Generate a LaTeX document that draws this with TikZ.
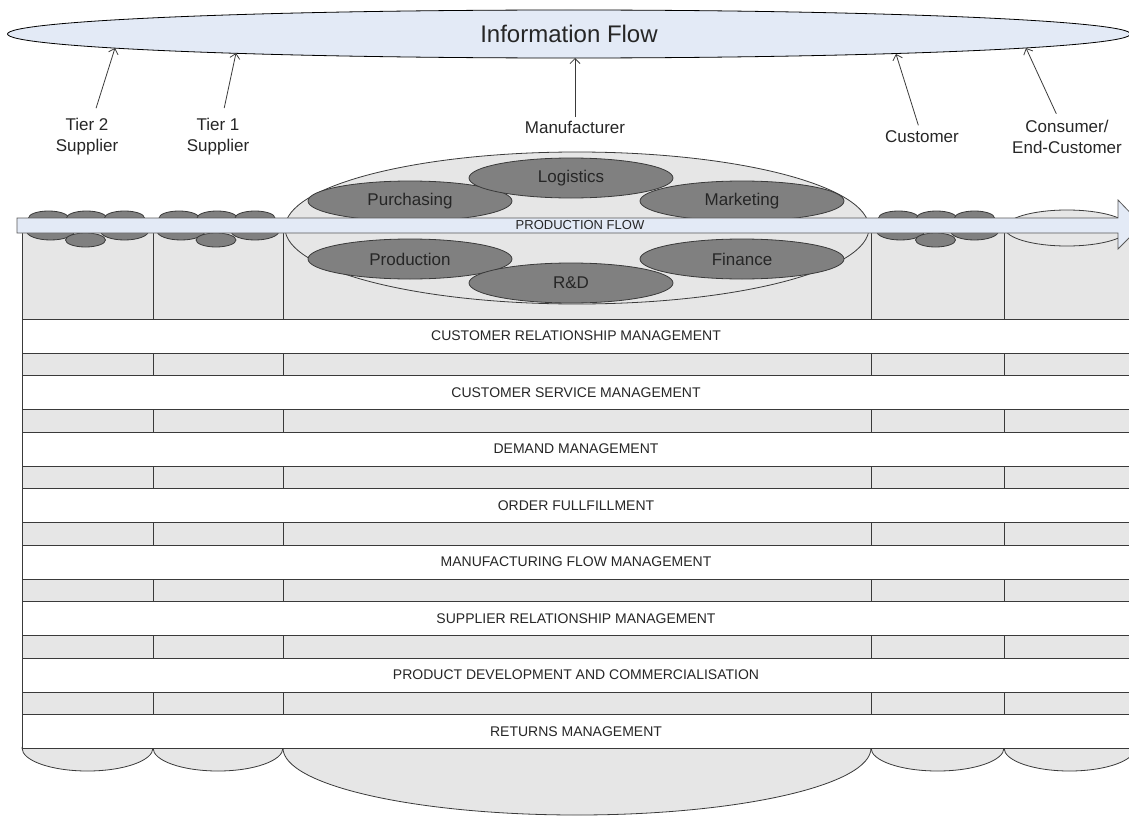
\documentclass[tikz,border=0pt]{standalone}
\usepackage{fontspec}
\setmainfont{Liberation Sans}
\usetikzlibrary{shapes.geometric,arrows.meta}
\definecolor{flowblue}{HTML}{E3EAF6}
\definecolor{colgray}{HTML}{E6E6E6}
\definecolor{deptgray}{HTML}{808080}
\definecolor{edge}{HTML}{3A3A3A}
\tikzset{
  lbl/.style={align=center, font=\fontsize{17}{21}\selectfont, text=black!85},
  dept/.style={ellipse, draw=edge, fill=deptgray, minimum width=204pt, minimum height=40pt,
    inner sep=0pt, font=\fontsize{17}{20}\selectfont, text=black!85},
  blob/.style={draw=edge, fill=deptgray},
  band/.style={draw=edge, fill=white},
  bandtxt/.style={font=\fontsize{14}{16}\selectfont, text=black!85}
}
\begin{document}
\begin{tikzpicture}[x=1pt, y=-1pt, line width=0.8pt, >={Straight Barb[length=5pt,width=10pt]}]
\useasboundingbox (0,0) rectangle (1129,816);
\clip (0,0) rectangle (1129,816);
% information flow and the members of the chain
\node[ellipse, draw=black, fill=flowblue, minimum width=1123pt, minimum height=48pt,
  inner sep=0pt, font=\fontsize{24}{28}\selectfont, text=black!85] (info) at (569,34) {Information Flow};
\node[lbl] (tier2) at (87,137) {Tier 2\\Supplier};
\node[lbl] (tier1) at (218,137) {Tier 1\\Supplier};
\node[lbl] (manu) at (575,127) {Manufacturer};
\node[lbl] (cust) at (922,137) {Customer};
\node[lbl] (cons) at (1067,137) {Consumer/\\End-Customer};
\coordinate (tier2tip) at (115,48);
\coordinate (tier1tip) at (236,53);
\coordinate (manutip) at (575,58);
\coordinate (custtip) at (896,54);
\coordinate (constip) at (1026,48);
\draw[->, edge, shorten <=7pt] (tier2) -- (tier2tip);
\draw[->, edge, shorten <=7pt] (tier1) -- (tier1tip);
\draw[->, edge] (manu) -- (manutip);
\draw[->, edge, shorten <=2pt] (cust) -- (custtip);
\draw[->, edge, shorten <=3pt] (cons) -- (constip);
% column bottoms and bodies
\foreach \xl/\xr/\ry in {22/153/23, 153/283/23, 283/871/67, 871/1004/23, 1004/1135/23}
  \draw[edge, fill=colgray] ({(\xl+\xr)/2},748) ellipse [x radius={(\xr-\xl)/2}, y radius=\ry];
\fill[colgray] (22,228) rectangle (1135,748);
\foreach \x in {22,153,283,871,1004}
  \draw[edge] (\x,228) -- (\x,748);
% column tops
\draw[edge, fill=colgray] (577,228) ellipse [x radius=292, y radius=76];
\draw[edge, fill=colgray] (1067,228) ellipse [x radius=62, y radius=18];
\foreach \c in {87.5,218,937.5}
{
  \foreach \dx in {-39,-1,37}
    \draw[blob] ({\c+\dx},218) ellipse [x radius=20, y radius=7];
  \foreach \dx in {-37,37}
    \draw[blob] ({\c+\dx},231) ellipse [x radius=24, y radius=9];
  \draw[blob] ({\c-2},240) ellipse [x radius=20, y radius=7];
}
\node[dept] (purchasing) at (410,201) {Purchasing};
\node[dept] (marketing) at (742,201) {Marketing};
\node[dept] (production) at (410,259) {Production};
\node[dept] (finance) at (742,259) {Finance};
\node[dept] (logistics) at (571,178) {Logistics};
\node[dept] (rnd) at (571,283) {R\&D};
% production flow
\draw[draw=gray!70!black, fill=flowblue] (17,218) -- (1118,218) -- (1118,200) -- (1142,225)
  -- (1118,249) -- (1118,233) -- (17,233) -- cycle;
\node[font=\fontsize{13}{15}\selectfont, text=black!85] (prodflow) at (580,225.5) {PRODUCTION FLOW};
% business processes
\foreach \t [count=\i from 0] in {CUSTOMER RELATIONSHIP MANAGEMENT, CUSTOMER SERVICE MANAGEMENT,
  DEMAND MANAGEMENT, ORDER FULLFILLMENT, MANUFACTURING FLOW MANAGEMENT,
  SUPPLIER RELATIONSHIP MANAGEMENT, PRODUCT DEVELOPMENT AND COMMERCIALISATION,
  RETURNS MANAGEMENT}
{
  \draw[band] (22,{319+56.5*\i}) rectangle (1140,{353+56.5*\i});
  \node[bandtxt] (band\i) at (576,{336+56.5*\i}) {\t};
}
\end{tikzpicture}
\end{document}
